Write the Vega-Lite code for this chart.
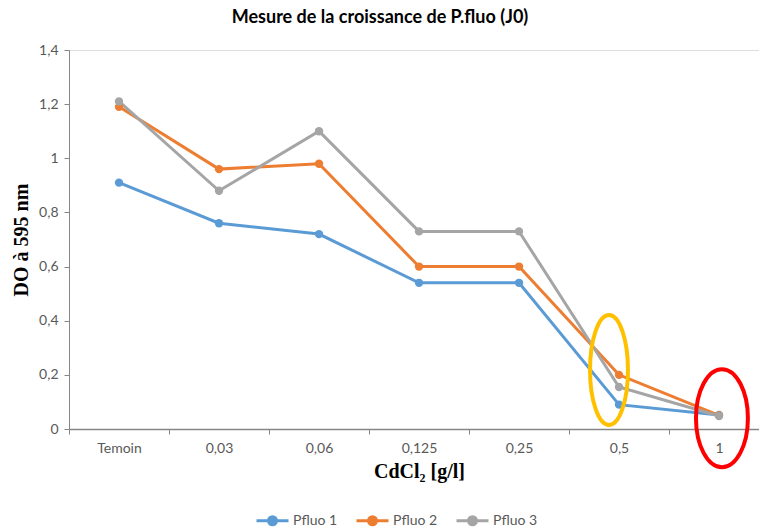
{
  "$schema": "https://vega.github.io/schema/vega-lite/v6.json",
  "autosize": "none",
  "width": 690,
  "height": 379,
  "padding": {"left": 69, "top": 50, "right": 0, "bottom": 99},
  "background": "white",
  "title": {
    "text": "Mesure de la croissance de P.fluo (J0)",
    "font": "Lato",
    "fontSize": 18,
    "fontWeight": "bold",
    "color": "#000000",
    "anchor": "middle",
    "dx": -34,
    "offset": 16
  },
  "datasets": {
    "mesures": [
      {"conc": "Temoin", "serie": "Pfluo 1", "do": 0.91},
      {"conc": "0,03", "serie": "Pfluo 1", "do": 0.76},
      {"conc": "0,06", "serie": "Pfluo 1", "do": 0.72},
      {"conc": "0,125", "serie": "Pfluo 1", "do": 0.54},
      {"conc": "0,25", "serie": "Pfluo 1", "do": 0.54},
      {"conc": "0,5", "serie": "Pfluo 1", "do": 0.09},
      {"conc": "1", "serie": "Pfluo 1", "do": 0.052},
      {"conc": "Temoin", "serie": "Pfluo 2", "do": 1.19},
      {"conc": "0,03", "serie": "Pfluo 2", "do": 0.96},
      {"conc": "0,06", "serie": "Pfluo 2", "do": 0.98},
      {"conc": "0,125", "serie": "Pfluo 2", "do": 0.6},
      {"conc": "0,25", "serie": "Pfluo 2", "do": 0.6},
      {"conc": "0,5", "serie": "Pfluo 2", "do": 0.2},
      {"conc": "1", "serie": "Pfluo 2", "do": 0.05},
      {"conc": "Temoin", "serie": "Pfluo 3", "do": 1.21},
      {"conc": "0,03", "serie": "Pfluo 3", "do": 0.88},
      {"conc": "0,06", "serie": "Pfluo 3", "do": 1.1},
      {"conc": "0,125", "serie": "Pfluo 3", "do": 0.73},
      {"conc": "0,25", "serie": "Pfluo 3", "do": 0.73},
      {"conc": "0,5", "serie": "Pfluo 3", "do": 0.155},
      {"conc": "1", "serie": "Pfluo 3", "do": 0.048}
    ],
    "orange": [{"conc": "0,5", "do": 0.218}],
    "rouge": [{"conc": "1", "do": 0.04}]
  },
  "encoding": {
    "x": {
      "field": "conc",
      "type": "nominal",
      "sort": ["Temoin", "0,03", "0,06", "0,125", "0,25", "0,5", "1"],
      "scale": {"type": "band", "range": [0, 700], "paddingInner": 0, "paddingOuter": 0},
      "axis": {
        "title": "CdCl₂ [g/l]",
        "titleFont": "Liberation Serif",
        "titleFontSize": 20,
        "titleFontWeight": "bold",
        "titleColor": "#000000",
        "titlePadding": 6,
        "labelAngle": 0,
        "labelFont": "Lato",
        "labelFontSize": 14,
        "labelColor": "#595959",
        "labelPadding": 7,
        "tickBand": "extent",
        "tickSize": 5,
        "tickColor": "#868686",
        "domainColor": "#868686",
        "domainWidth": 1.5,
        "grid": false
      }
    },
    "y": {
      "field": "do",
      "type": "quantitative",
      "scale": {"domain": [0, 1.4], "nice": false},
      "axis": {
        "title": "DO à 595 nm",
        "titleFont": "Liberation Serif",
        "titleFontSize": 20,
        "titleFontWeight": "bold",
        "titleColor": "#000000",
        "titlePadding": 7,
        "values": [0, 0.2, 0.4, 0.6, 0.8, 1, 1.2, 1.4],
        "labelExpr": "replace(format(datum.value, '~g'), '.', ',')",
        "labelFont": "Lato",
        "labelFontSize": 14,
        "labelColor": "#595959",
        "labelPadding": 6,
        "tickSize": 5,
        "tickColor": "#868686",
        "domainColor": "#868686",
        "grid": false
      }
    }
  },
  "layer": [
    {
      "data": {"name": "mesures"},
      "mark": {"type": "line", "strokeWidth": 3, "point": {"size": 70, "filled": true, "opacity": 1}},
      "encoding": {
        "color": {
          "field": "serie",
          "type": "nominal",
          "scale": {"domain": ["Pfluo 1", "Pfluo 2", "Pfluo 3"], "range": ["#5B9BD5", "#ED7D31", "#A5A5A5"]},
          "legend": {
            "title": null,
            "orient": "none",
            "legendX": 186,
            "legendY": 453,
            "direction": "horizontal",
            "symbolType": "M -1 0 L 1 0 M -0.25 0 A 0.25 0.25 0 1 0 0.25 0 A 0.25 0.25 0 1 0 -0.25 0",
            "symbolSize": 1024,
            "symbolStrokeWidth": 3,
            "labelFont": "Lato",
            "labelFontSize": 14,
            "labelColor": "#595959",
            "labelOffset": 3,
            "columnPadding": 12
          }
        }
      }
    },
    {
      "data": {"name": "orange"},
      "mark": {
        "type": "point",
        "shape": "M -0.527 0 A 0.345 1 0 1 0 0.163 0 A 0.345 1 0 1 0 -0.527 0",
        "size": 12100,
        "filled": false,
        "stroke": "#FFC000",
        "strokeWidth": 4,
        "opacity": 1
      }
    },
    {
      "data": {"name": "rouge"},
      "mark": {
        "type": "point",
        "shape": "M -0.47 0 A 0.53 1 0 1 0 0.59 0 A 0.53 1 0 1 0 -0.47 0",
        "size": 9604,
        "filled": false,
        "stroke": "#FF0000",
        "strokeWidth": 4,
        "opacity": 1
      }
    }
  ]
}
